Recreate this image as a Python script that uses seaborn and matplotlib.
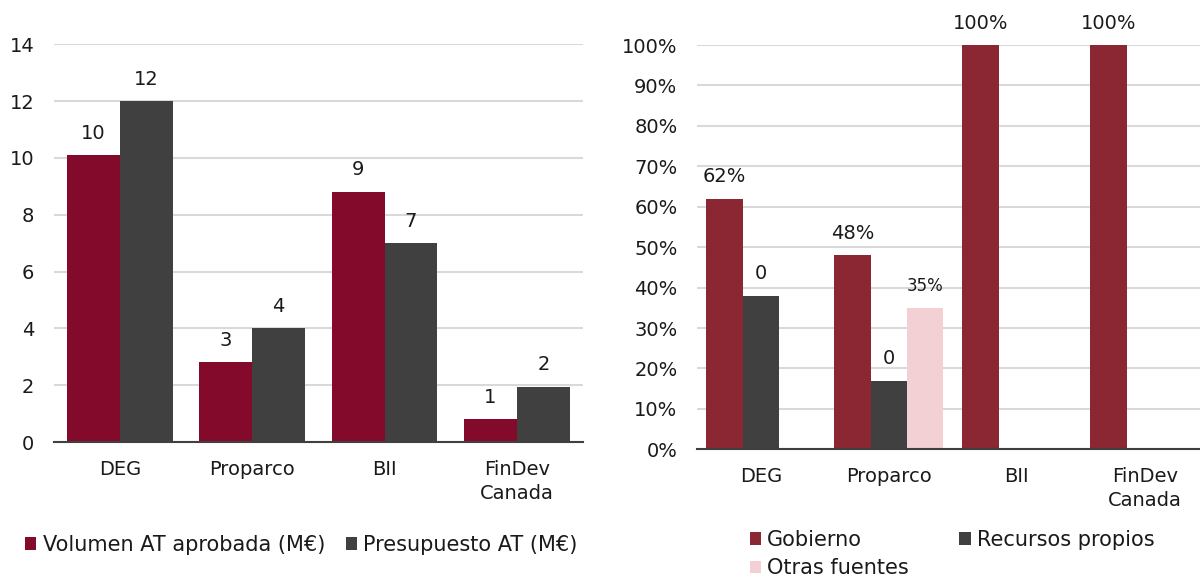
import numpy as np
import pandas as pd
import seaborn as sns
import matplotlib.pyplot as plt
from matplotlib.patches import Patch
from matplotlib.ticker import PercentFormatter

# ---------------- data ----------------
categories = ["DEG", "Proparco", "BII", "FinDev\nCanada"]

left_series = ["Volumen AT aprobada (M€)", "Presupuesto AT (M€)"]
vol_aprobada = [10.1, 2.8, 8.8, 0.8]
presupuesto = [12.0, 4.0, 7.0, 1.95]
left_yticks = [0, 2, 4, 6, 8, 10, 12, 14]

right_series = ["Gobierno", "Recursos propios", "Otras fuentes"]
gobierno = [0.62, 0.48, 1.00, 1.00]
recursos_propios = [0.38, 0.17, 0.0, 0.0]
otras_fuentes = [0.0, 0.35, 0.0, 0.0]
right_yticks = [0.0, 0.1, 0.2, 0.3, 0.4, 0.5, 0.6, 0.7, 0.8, 0.9, 1.0]

# ---------------- style ----------------
sns.set_theme(style="white")
plt.rcParams["font.family"] = ["DejaVu Sans"]
TXT = "#1a1a1a"
FS = 14
LFS = 15

left_colors = ["#840A2C", "#404040"]
right_colors = ["#8B2633", "#404040", "#F2D0D4"]

fig = plt.figure(figsize=(12, 5.82), dpi=100)
axL = fig.add_axes([0.0447, 0.2405, 0.4412, 0.6835])
axR = fig.add_axes([0.5807, 0.2280, 0.4265, 0.6946])

dfL = pd.DataFrame({
    "cat": categories * 2,
    "val": vol_aprobada + presupuesto,
    "serie": [left_series[0]] * 4 + [left_series[1]] * 4,
})
dfR = pd.DataFrame({
    "cat": categories * 3,
    "val": gobierno + recursos_propios + otras_fuentes,
    "serie": [right_series[0]] * 4 + [right_series[1]] * 4 + [right_series[2]] * 4,
})

sns.barplot(data=dfL, x="cat", y="val", hue="serie", hue_order=left_series,
            palette=left_colors, saturation=1, width=0.8, linewidth=0,
            errorbar=None, legend=False, ax=axL)
sns.barplot(data=dfR, x="cat", y="val", hue="serie", hue_order=right_series,
            palette=right_colors, saturation=1, width=0.85, linewidth=0,
            errorbar=None, legend=False, ax=axR)


def style_axes(ax, yticks):
    ax.set_xlim(-0.5, len(categories) - 0.5)
    ax.set_ylim(yticks[0], yticks[-1])
    ax.set_yticks(yticks)
    ax.set_xlabel("")
    ax.set_ylabel("")
    ax.yaxis.grid(True, color="#D9D9D9", lw=1.5)
    ax.xaxis.grid(False)
    ax.set_axisbelow(True)
    for s in ["top", "right", "left"]:
        ax.spines[s].set_visible(False)
    ax.spines["bottom"].set_color("#404040")
    ax.spines["bottom"].set_linewidth(1.5)
    ax.set_xticks(np.arange(-0.5, len(categories), 1.0), minor=True)
    ax.tick_params(axis="x", which="minor", length=6, width=1.5,
                   color="#404040", direction="out")
    ax.tick_params(axis="x", which="major", length=0, pad=13,
                   labelsize=FS, labelcolor=TXT)
    ax.tick_params(axis="y", length=0, pad=14, labelsize=FS, labelcolor=TXT)
    for lab in ax.get_xticklabels():
        lab.set_linespacing(1.3)


style_axes(axL, left_yticks)
style_axes(axR, right_yticks)
axR.yaxis.set_major_formatter(PercentFormatter(1.0, decimals=0))

# data labels
for cont, vals in zip(axL.containers, [vol_aprobada, presupuesto]):
    axL.bar_label(cont, labels=[f"{v:.0f}" for v in vals], padding=9,
                  fontsize=FS, color=TXT)

right_vals = [gobierno, recursos_propios, otras_fuentes]
right_fmt = [lambda v: f"{v*100:.0f}%", lambda v: f"{v:.0f}", lambda v: f"{v*100:.0f}%"]
right_fs = [FS, FS, FS - 2]
for cont, vals, fmt, fs in zip(axR.containers, right_vals, right_fmt, right_fs):
    axR.bar_label(cont, labels=[fmt(v) if v > 0 else "" for v in vals],
                  padding=9, fontsize=fs, color=TXT, clip_on=False)

# legends
hL = [Patch(facecolor=c, edgecolor="none") for c in left_colors]
axL.legend(hL, left_series, loc="center left", bbox_to_anchor=(0.012, 0.064),
           bbox_transform=fig.transFigure, ncol=2, frameon=False,
           fontsize=LFS, borderpad=0, handlelength=0.55, handleheight=0.55,
           handletextpad=0.3, columnspacing=1.0, labelcolor=TXT)

hR = [Patch(facecolor=c, edgecolor="none") for c in right_colors]
order = [0, 2, 1]
axR.legend([hR[i] for i in order], [right_series[i] for i in order],
           loc="upper left", bbox_to_anchor=(0.616, 0.107),
           bbox_transform=fig.transFigure, ncol=2, frameon=False,
           fontsize=LFS, borderpad=0, handlelength=0.55, handleheight=0.55,
           handletextpad=0.3, columnspacing=2.4, labelspacing=0.4,
           labelcolor=TXT)

fig.savefig("out.png", dpi=100)
